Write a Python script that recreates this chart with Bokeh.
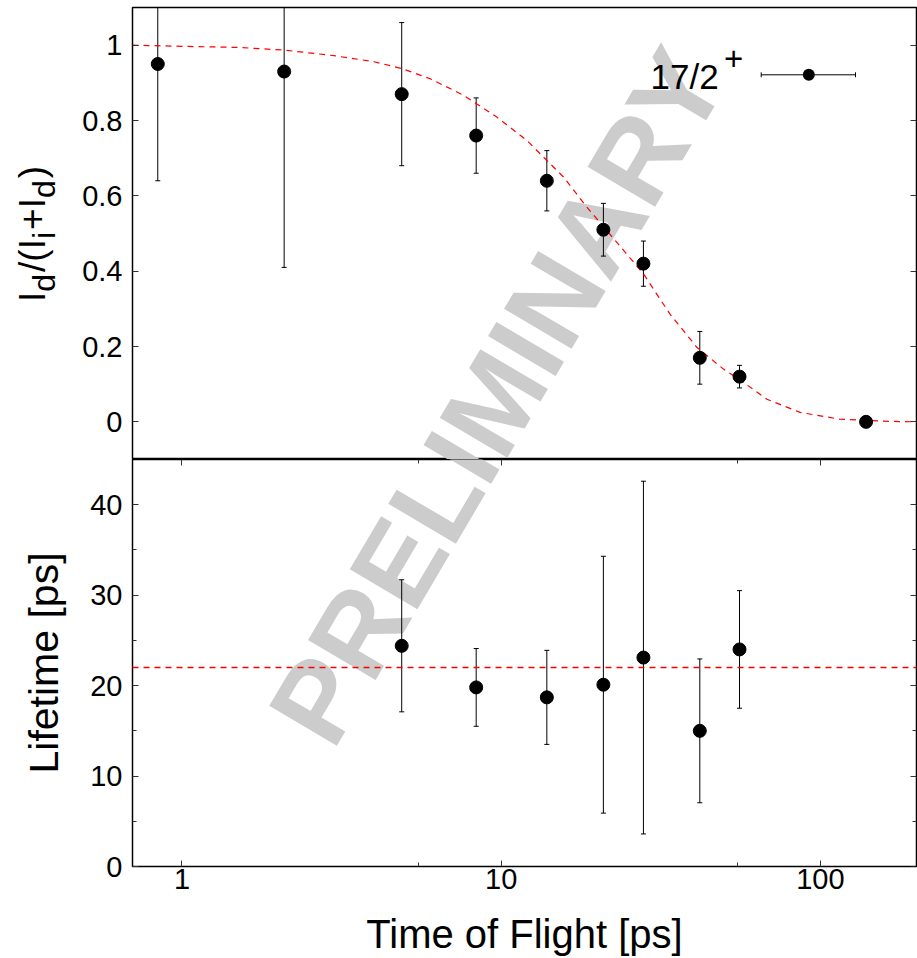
from bokeh.plotting import figure
from bokeh.layouts import column, row
from bokeh.models import (ColumnDataSource, Whisker, TeeHead, Label, LinearAxis, LogAxis,
                          FixedTicker, CustomJSTickFormatter, BoxAnnotation,
                          CustomLabelingPolicy, Range1d)
from bokeh.embed import file_html
from bokeh.resources import INLINE

# ---------------- data ----------------
tof = [0.84, 2.09, 4.88, 8.35, 13.9, 20.9, 27.9, 41.9, 55.8, 139.0]
ratio = [0.95, 0.93, 0.87, 0.76, 0.64, 0.51, 0.42, 0.17, 0.12, 0.00]
ratio_err = [0.31, 0.52, 0.19, 0.10, 0.08, 0.07, 0.06, 0.07, 0.03, 0.00]

fit_tof = [0.7, 1.0, 1.5, 2.09, 3.0, 4.0, 4.88, 5.99, 7.62, 9.69, 12.04, 15.67, 18.55,
           23.0, 27.9, 33.8, 41.0, 49.7, 55.4, 68.0, 86.4, 115.0, 169.0, 200.0]
fit_ratio = [1.0, 0.997, 0.994, 0.987, 0.972, 0.956, 0.938, 0.911, 0.867, 0.809, 0.747, 0.650, 0.570,
             0.477, 0.393, 0.286, 0.198, 0.140, 0.114, 0.060, 0.025, 0.007, 0.001, 0.0]

life_tof = [4.88, 8.35, 13.9, 20.9, 27.9, 41.9, 55.8]
lifetime = [24.4, 19.8, 18.7, 20.1, 23.1, 15.0, 24.0]
lifetime_err = [7.3, 4.3, 5.2, 14.2, 19.5, 7.95, 6.5]
mean_lifetime = 22.0

x_ticks = [1, 10, 100]
x_minor_ticks = [5.5, 55]
ratio_ticks = [0, 0.2, 0.4, 0.6, 0.8, 1]
life_ticks = [0, 10, 20, 30, 40]
life_minor_ticks = [5, 15, 25, 35]
legend_text = "17/2"
legend_sup = "+"
x_title = "Time of Flight [ps]"
life_title = "Lifetime [ps]"
ratio_title_parts = ["I", "d", "/(I", "i", "+I", "d", ")"]
ratio_title_is_sub = [False, True, False, True, False, True, False]
watermark_text = "PRELIMINARY"

FONT = "Liberation Sans"
TICK_SIZE = "29px"
RED = "#ff0000"
fmt = CustomJSTickFormatter(code="return String(Number(tick.toFixed(2)))")

TITLE_W = 70
MAIN_PX, SUB_PX = 37, 32
# Liberation Sans advance widths (em) of the title pieces
EM_WIDTH = {"I": 0.278, "d": 0.556, "/(I": 0.889, "i": 0.222, "+I": 0.862, ")": 0.333}


def style_axis(ax, labels=True):
    ax.axis_line_color = None
    ax.major_tick_in = 6
    ax.major_tick_out = 0
    ax.minor_tick_in = 4
    ax.minor_tick_out = 0
    ax.major_tick_line_color = "#333333"
    ax.minor_tick_line_color = "#333333"
    ax.major_label_text_font = FONT
    ax.major_label_text_font_size = TICK_SIZE
    ax.major_label_text_color = "black"
    ax.formatter = fmt
    if not labels:
        ax.major_label_policy = CustomLabelingPolicy(code="return new Set()")
        ax.major_label_standoff = 0


def watermark(p, y):
    p.add_layout(Label(x=9.72, y=y, text=watermark_text, angle=59.5, angle_units="deg",
                       text_align="center", text_baseline="middle", text_font=FONT,
                       text_font_style="bold", text_font_size="114px",
                       text_color="#cccccc", level="image"))


x_range = Range1d(0.7, 200)

# ---------------- y title of the top panel (separate narrow canvas) ----------------
ttl = figure(width=TITLE_W, height=459, x_range=(0, 1), y_range=(0, 1),
             x_axis_location=None, y_axis_location=None, output_backend="svg",
             toolbar_location=None, min_border_left=0, min_border_right=0,
             min_border_top=0, min_border_bottom=0)
ttl.outline_line_color = None
ttl.grid.visible = False
pos = 157.5
for txt, sub in zip(ratio_title_parts, ratio_title_is_sub):
    px = SUB_PX if sub else MAIN_PX
    ttl.add_layout(Label(x=43.0 if sub else 31.6, y=pos, x_units="screen", y_units="screen",
                         text=txt, angle=90, angle_units="deg", text_align="left",
                         text_baseline="middle", text_font=FONT,
                         text_font_size=f"{px}px", text_color="black"))
    pos += EM_WIDTH[txt] * px + (2 if sub else 0)

# ---------------- top panel ----------------
top = figure(width=917 - TITLE_W, height=459, x_axis_type="log", x_range=x_range,
             y_range=(-0.1, 1.1), x_axis_location=None, y_axis_location=None,
             output_backend="svg", toolbar_location=None, min_border_left=132 - TITLE_W,
             min_border_right=1, min_border_top=7, min_border_bottom=0)
top.outline_line_color = "black"
top.outline_line_width = 1.5
top.grid.visible = False

ax = LinearAxis(ticker=FixedTicker(ticks=ratio_ticks))
style_axis(ax)
ax.major_label_standoff = 10
top.add_layout(ax, "left")
axr = LinearAxis(ticker=FixedTicker(ticks=ratio_ticks), fixed_location=200)
style_axis(axr, labels=False)
top.add_layout(axr, "right")

watermark(top, 0.066)

src_top = ColumnDataSource(dict(
    x=tof, y=ratio,
    lo=[v - e for v, e in zip(ratio, ratio_err)],
    hi=[v + e for v, e in zip(ratio, ratio_err)]))
top.line(fit_tof, fit_ratio, line_color=RED, line_width=1.2, line_dash="6 5")
top.add_layout(Whisker(source=src_top, base="x", lower="lo", upper="hi", dimension="height",
                       line_color="black", line_width=1,
                       upper_head=TeeHead(size=5, line_color="black", line_width=1),
                       lower_head=TeeHead(size=5, line_color="black", line_width=1)))
top.scatter("x", "y", source=src_top, size=13, color="black")

# legend
top.add_layout(Label(x=518, y=382.6, x_units="screen", y_units="screen", text=legend_text,
                     text_font=FONT, text_font_size="35px", text_color="black",
                     text_baseline="middle"))
top.add_layout(Label(x=591.5, y=401.2, x_units="screen", y_units="screen", text=legend_sup,
                     text_font=FONT, text_font_size="33px", text_color="black",
                     text_baseline="middle"))
leg_src = ColumnDataSource(dict(b=[384.7], l=[628.7], u=[723.0]))
top.add_layout(Whisker(source=leg_src, base="b", lower="l", upper="u", dimension="width",
                       base_units="screen", lower_units="screen", upper_units="screen",
                       line_color="black", line_width=1, level="annotation",
                       upper_head=TeeHead(size=5, line_color="black", line_width=1),
                       lower_head=TeeHead(size=5, line_color="black", line_width=1)))
top.add_layout(BoxAnnotation(left=670.3, right=682.3, bottom=378.7, top=390.7,
                             left_units="screen", right_units="screen",
                             bottom_units="screen", top_units="screen",
                             fill_color="black", fill_alpha=1, line_color=None,
                             border_radius=6, level="annotation"))

# ---------------- bottom panel ----------------
bot = figure(width=917, height=499, x_axis_type="log", x_range=x_range, y_range=(0, 45),
             x_axis_location=None, y_axis_location=None, output_backend="svg",
             toolbar_location=None, min_border_left=132, min_border_right=1,
             min_border_top=0, min_border_bottom=0)
bot.outline_line_color = "black"
bot.outline_line_width = 1.5
bot.grid.visible = False

bx = LogAxis(ticker=FixedTicker(ticks=x_ticks, minor_ticks=x_minor_ticks))
style_axis(bx)
bx.major_label_standoff = 2
bx.axis_label = x_title
bx.axis_label_text_font = FONT
bx.axis_label_text_font_size = "40px"
bx.axis_label_text_font_style = "normal"
bx.axis_label_text_color = "black"
bx.axis_label_standoff = 20
bot.add_layout(bx, "below")

bxa = LogAxis(ticker=FixedTicker(ticks=x_ticks, minor_ticks=x_minor_ticks), fixed_location=45)
style_axis(bxa, labels=False)
bot.add_layout(bxa, "above")

by = LinearAxis(ticker=FixedTicker(ticks=life_ticks, minor_ticks=life_minor_ticks))
style_axis(by)
by.major_label_standoff = 10
by.axis_label = life_title
by.axis_label_text_font = FONT
by.axis_label_text_font_size = "41px"
by.axis_label_text_font_style = "normal"
by.axis_label_text_color = "black"
by.axis_label_standoff = 20
bot.add_layout(by, "left")

byr = LinearAxis(ticker=FixedTicker(ticks=life_ticks, minor_ticks=life_minor_ticks),
                 fixed_location=200)
style_axis(byr, labels=False)
bot.add_layout(byr, "right")

watermark(bot, 52.07)

src_bot = ColumnDataSource(dict(
    x=life_tof, y=lifetime,
    lo=[v - e for v, e in zip(lifetime, lifetime_err)],
    hi=[v + e for v, e in zip(lifetime, lifetime_err)]))
bot.add_layout(Whisker(source=src_bot, base="x", lower="lo", upper="hi", dimension="height",
                       line_color="black", line_width=1,
                       upper_head=TeeHead(size=5, line_color="black", line_width=1),
                       lower_head=TeeHead(size=5, line_color="black", line_width=1)))
bot.scatter("x", "y", source=src_bot, size=13, color="black")

# weighted-mean lifetime across the whole x range (drawn last, on top)
mean_src = ColumnDataSource(dict(x=[x_range.start, x_range.end],
                                 y=[mean_lifetime, mean_lifetime]))
bot.line("x", "y", source=mean_src, line_color=RED, line_alpha=1.0, line_width=1.4,
         line_dash="6 5", level="overlay")

layout = column(row(ttl, top, spacing=0), bot, spacing=0)
open("out.html", "w").write(file_html(layout, INLINE))
